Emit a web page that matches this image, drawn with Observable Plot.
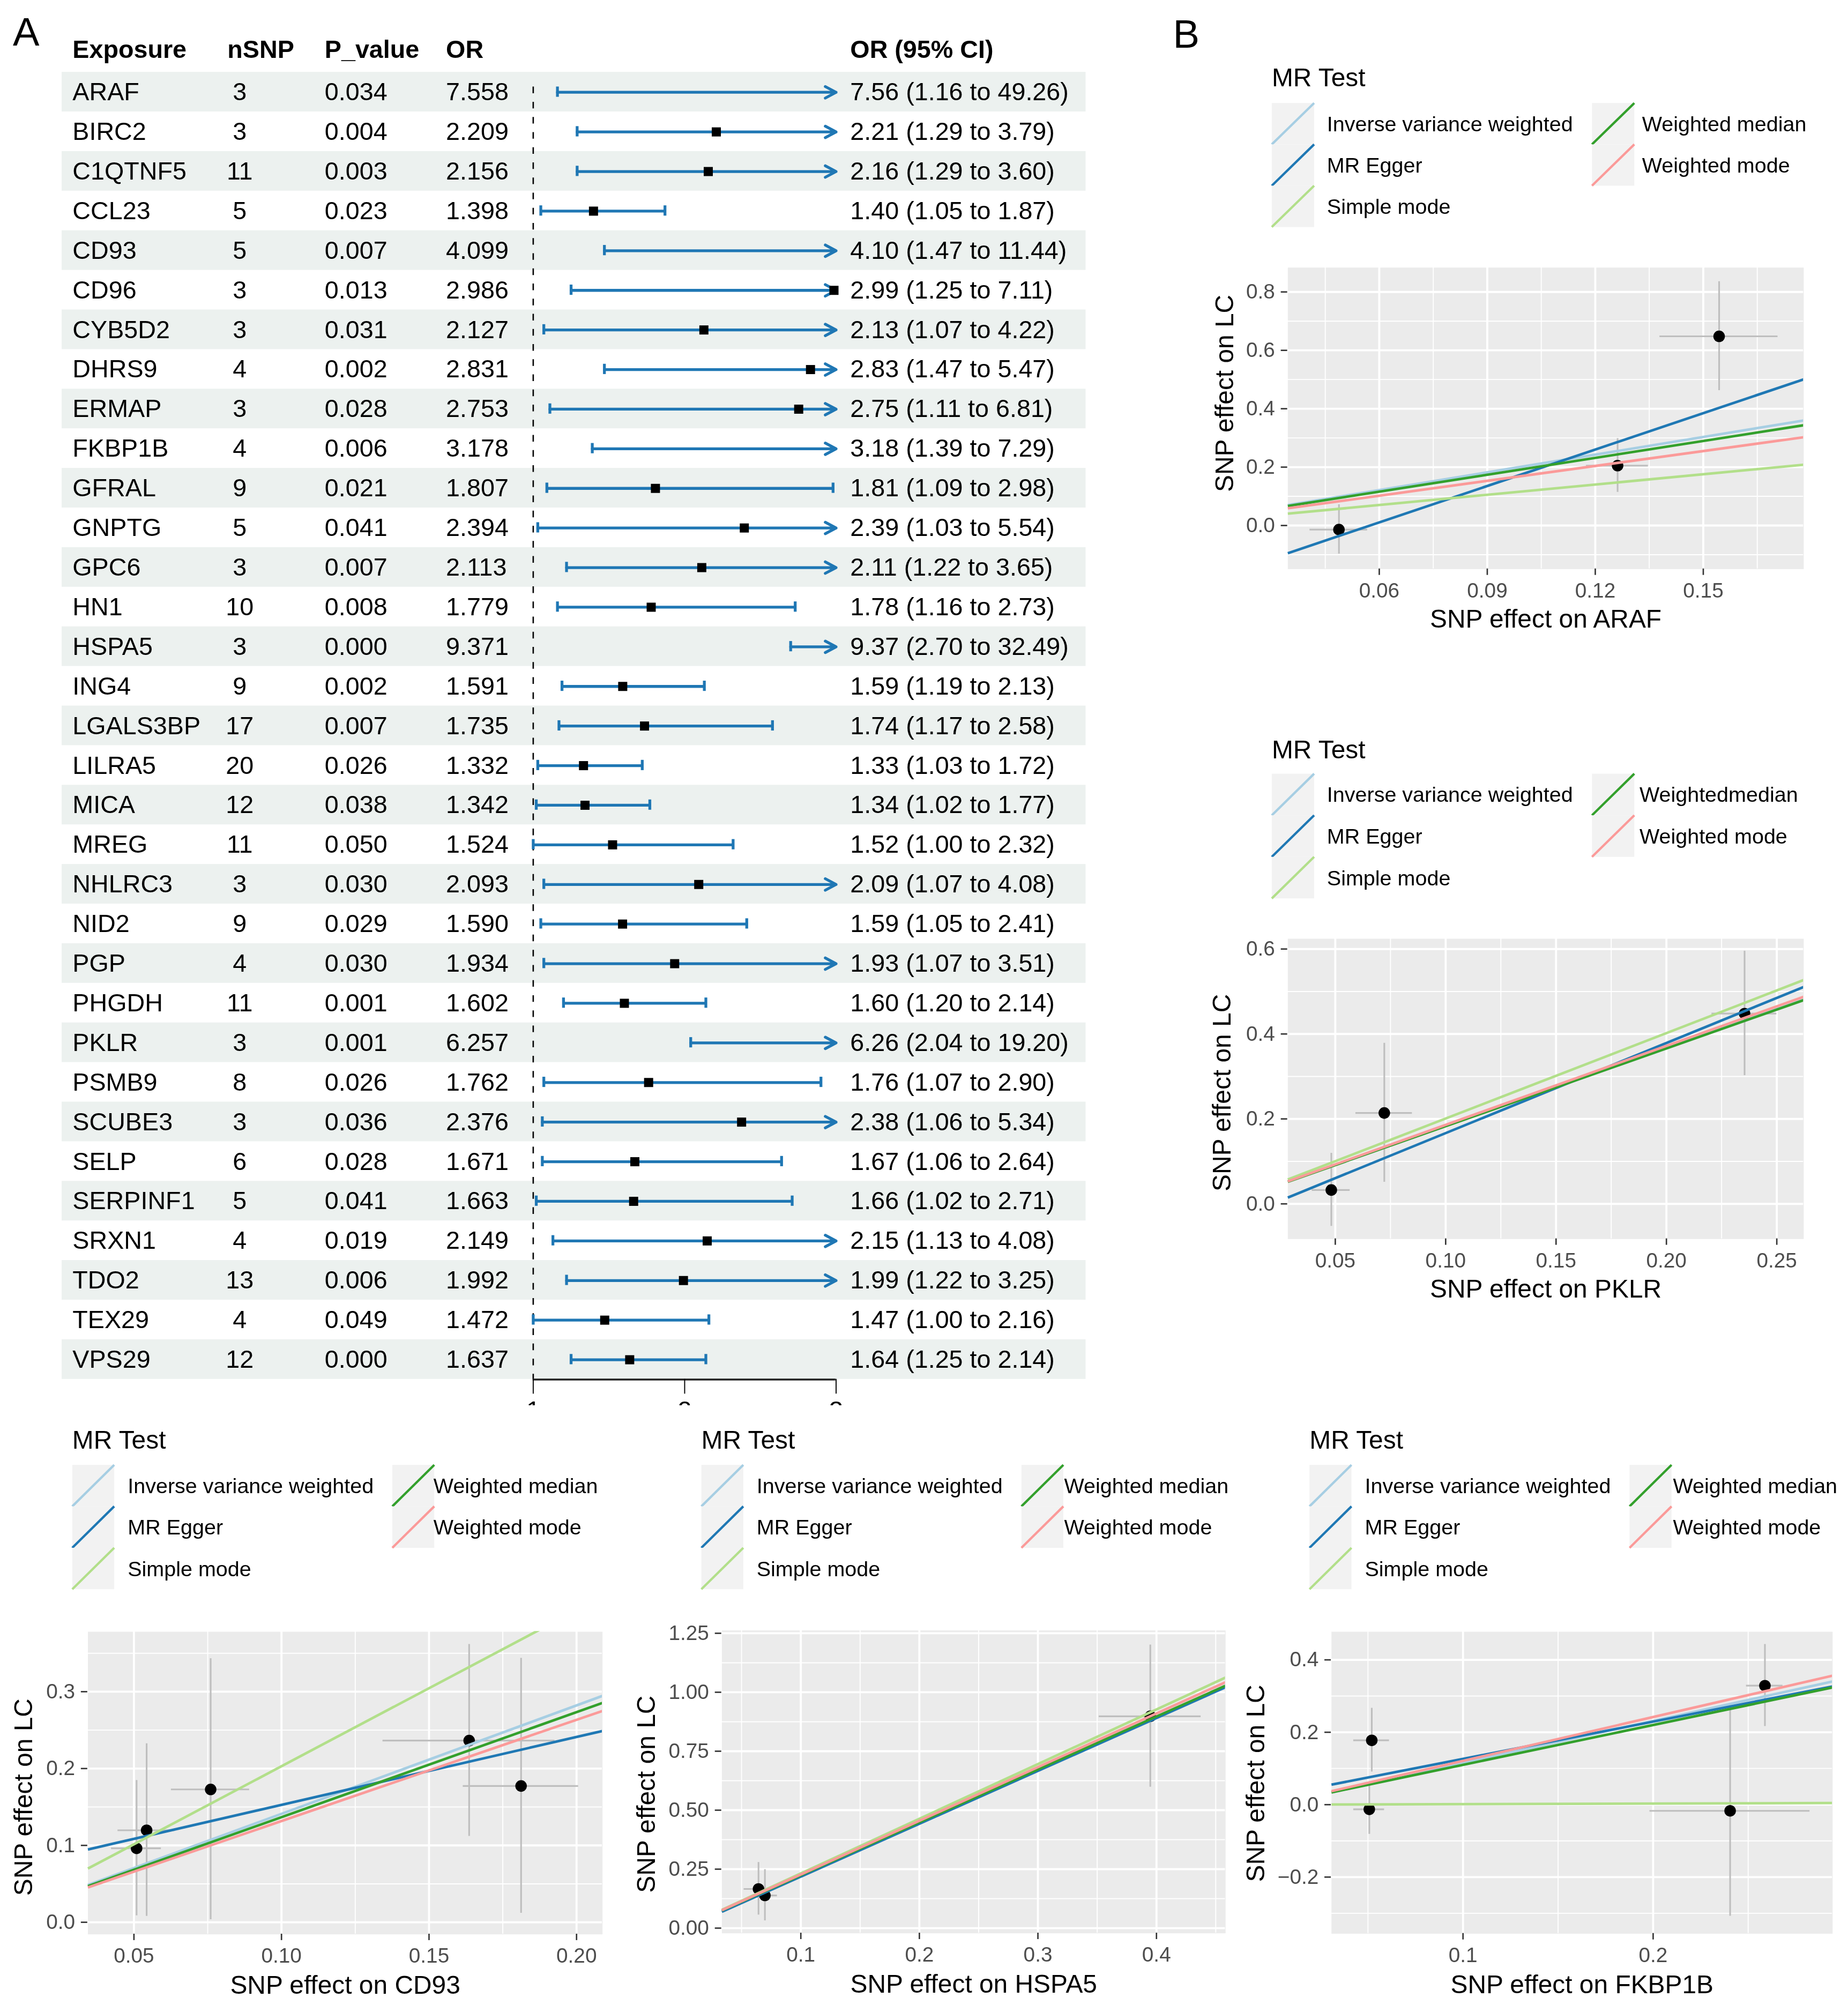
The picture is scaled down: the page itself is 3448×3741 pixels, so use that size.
<!DOCTYPE html>
<html>
<head>
<meta charset="utf-8">
<script src="https://cdn.jsdelivr.net/npm/d3@7"></script>
<script src="https://cdn.jsdelivr.net/npm/@observablehq/plot@0.6"></script>
<style>
html, body { margin: 0; padding: 0; background: #fff; width: 3448px; height: 3741px; overflow: hidden; }
#root { position: absolute; left: 0; top: 0; width: 1440px; height: 1562px; transform: scale(2.394444); transform-origin: 0 0; font-family: "Liberation Sans", Arial, Helvetica, sans-serif; }
</style>
</head>
<body>
<div id="root"></div>
<script>
const FONT = '"Liberation Sans", Arial, Helvetica, sans-serif';

// ---------------- Panel A: forest plot data ----------------
const exposures = ["ARAF","BIRC2","C1QTNF5","CCL23","CD93","CD96","CYB5D2","DHRS9","ERMAP","FKBP1B","GFRAL","GNPTG","GPC6","HN1","HSPA5","ING4","LGALS3BP","LILRA5","MICA","MREG","NHLRC3","NID2","PGP","PHGDH","PKLR","PSMB9","SCUBE3","SELP","SERPINF1","SRXN1","TDO2","TEX29","VPS29"];
const nSNP = [3,3,11,5,5,3,3,4,3,4,9,5,3,10,3,9,17,20,12,11,3,9,4,11,3,8,3,6,5,4,13,4,12];
const pValues = ["0.034","0.004","0.003","0.023","0.007","0.013","0.031","0.002","0.028","0.006","0.021","0.041","0.007","0.008","0.000","0.002","0.007","0.026","0.038","0.050","0.030","0.029","0.030","0.001","0.001","0.026","0.036","0.028","0.041","0.019","0.006","0.049","0.000"];
const oddsRatios = [7.558,2.209,2.156,1.398,4.099,2.986,2.127,2.831,2.753,3.178,1.807,2.394,2.113,1.779,9.371,1.591,1.735,1.332,1.342,1.524,2.093,1.590,1.934,1.602,6.257,1.762,2.376,1.671,1.663,2.149,1.992,1.472,1.637];
const ciLower = [1.16,1.29,1.29,1.05,1.47,1.25,1.07,1.47,1.11,1.39,1.09,1.03,1.22,1.16,2.70,1.19,1.17,1.03,1.02,1.00,1.07,1.05,1.07,1.20,2.04,1.07,1.06,1.06,1.02,1.13,1.22,1.00,1.25];
const ciUpper = [49.26,3.79,3.60,1.87,11.44,7.11,4.22,5.47,6.81,7.29,2.98,5.54,3.65,2.73,32.49,2.13,2.58,1.72,1.77,2.32,4.08,2.41,3.51,2.14,19.20,2.90,5.34,2.64,2.71,4.08,3.25,2.16,2.14];
const orCiLabels = ["7.56 (1.16 to 49.26)","2.21 (1.29 to 3.79)","2.16 (1.29 to 3.60)","1.40 (1.05 to 1.87)","4.10 (1.47 to 11.44)","2.99 (1.25 to 7.11)","2.13 (1.07 to 4.22)","2.83 (1.47 to 5.47)","2.75 (1.11 to 6.81)","3.18 (1.39 to 7.29)","1.81 (1.09 to 2.98)","2.39 (1.03 to 5.54)","2.11 (1.22 to 3.65)","1.78 (1.16 to 2.73)","9.37 (2.70 to 32.49)","1.59 (1.19 to 2.13)","1.74 (1.17 to 2.58)","1.33 (1.03 to 1.72)","1.34 (1.02 to 1.77)","1.52 (1.00 to 2.32)","2.09 (1.07 to 4.08)","1.59 (1.05 to 2.41)","1.93 (1.07 to 3.51)","1.60 (1.20 to 2.14)","6.26 (2.04 to 19.20)","1.76 (1.07 to 2.90)","2.38 (1.06 to 5.34)","1.67 (1.06 to 2.64)","1.66 (1.02 to 2.71)","2.15 (1.13 to 4.08)","1.99 (1.22 to 3.25)","1.47 (1.00 to 2.16)","1.64 (1.25 to 2.14)"];
const forestHeaders = ["Exposure","nSNP","P_value","OR","OR (95% CI)"];
const forestTicks = [1, 2, 3];

// ---------------- Panel B: MR scatter data ----------------
const methods = ["Inverse variance weighted","MR Egger","Simple mode","Weighted median","Weighted mode"];
const methodsPKLR = ["Inverse variance weighted","MR Egger","Simple mode","Weightedmedian","Weighted mode"];
const methodColors = ["#a6cee3","#1f78b4","#b2df8a","#33a02c","#fb9a99"];

// ARAF
const arafBx = [0.0488, 0.1262, 0.1544];
const arafSx = [0.0080, 0.0086, 0.0164];
const arafBy = [-0.014, 0.205, 0.648];
const arafSy = [0.0845, 0.092, 0.1865];
const arafIntercept = [0, -0.2388, 0, 0, 0];
const arafSlope = [2.0226, 4.157, 1.17, 1.93, 1.70];

// PKLR
const pklrBx = [0.0482, 0.0722, 0.2354];
const pklrSx = [0.0086, 0.0128, 0.0147];
const pklrBy = [0.0326, 0.214, 0.448];
const pklrSy = [0.086, 0.1635, 0.1465];
const pklrIntercept = [0, -0.0456, 0, 0, 0];
const pklrSlope = [1.8337, 2.122, 2.01, 1.83, 1.86];

// CD93
const cd93Bx = [0.0509, 0.0543, 0.0760, 0.1636, 0.1812];
const cd93Sx = [0.00845, 0.00965, 0.01325, 0.02915, 0.01955];
const cd93By = [0.0962, 0.1197, 0.1728, 0.2364, 0.1773];
const cd93Sy = [0.088, 0.1122, 0.1698, 0.1248, 0.1659];
const cd93Intercept = [0, 0.0643, 0, 0, 0];
const cd93Slope = [1.4108, 0.884, 2.03, 1.367, 1.317];

// HSPA5
const hspa5Bx = [0.0643, 0.0697, 0.3948];
const hspa5Sx = [0.012, 0.0107, 0.043];
const hspa5By = [0.166, 0.1385, 0.898];
const hspa5Sy = [0.1115, 0.1085, 0.3015];
const hspa5Intercept = [0, -0.0056, 0, 0, 0];
const hspa5Slope = [2.2377, 2.241, 2.318, 2.243, 2.275];

// FKBP1B
const fkbp1bBx = [0.0520, 0.0507, 0.2405, 0.2588];
const fkbp1bSx = [0.0094, 0.0081, 0.0421, 0.0096];
const fkbp1bBy = [0.1777, -0.0128, -0.017, 0.3287];
const fkbp1bSy = [0.088, 0.0697, 0.2918, 0.1133];
const fkbp1bIntercept = [0, 0.0236, 0, 0, 0];
const fkbp1bSlope = [1.1563, 1.029, 0.015, 1.10, 1.21];

// ---------------- helpers ----------------
const root = document.getElementById("root");
function place(el, left, top) {
  const d = document.createElement("div");
  d.style.position = "absolute";
  d.style.left = left + "px";
  d.style.top = top + "px";
  el.style.display = "block";
  d.appendChild(el);
  root.appendChild(d);
  return d;
}

// ---------------- Forest plot ----------------
const rows = exposures.map((e, i) => ({
  i, exposure: e, nsnp: nSNP[i], p: pValues[i], or: oddsRatios[i],
  lo: ciLower[i], hi: ciUpper[i], label: orCiLabels[i]
}));
const shaded = rows.filter(d => d.i % 2 === 0);
const capped = rows.filter(d => d.hi <= 3);
const arrowed = rows.filter(d => d.hi > 3);
const shown = rows.filter(d => d.or <= 3);

const BLUE = "#1F77B4";
const F_LEFT = 48, F_W = 798, F_TOP = 56, F_BOT = 1074.5, F_H = 1094.5;
const bw = (F_BOT - F_TOP) / exposures.length;
const capInset = (bw - 8) / 2;
const colDx = [8, 138.3, 204.5, 299, 614];     // body text columns
const headDx = [8, 128.7, 204.5, 299, 614];    // header text columns
const FS = 19.5;

const headerMarks = forestHeaders.map((h, k) =>
  Plot.text([h], {frameAnchor: "top-left", dx: headDx[k], dy: -17.5, lineAnchor: "middle", textAnchor: "start", fontWeight: "bold", fontSize: FS, fill: "black"})
);
const colText = (accessor, k, anchor = "start") =>
  Plot.text(rows, {y: "exposure", text: accessor, frameAnchor: "left", dx: colDx[k], textAnchor: anchor, lineAnchor: "middle", fontSize: FS, fill: "black"});

const forest = Plot.plot({
  width: F_W, height: F_H,
  marginLeft: 0, marginRight: 0, marginTop: F_TOP, marginBottom: F_H - F_BOT,
  style: {background: "transparent", fontFamily: FONT, overflow: "hidden"},
  x: {domain: [1, 3], range: [415 - F_LEFT, 651 - F_LEFT], clamp: true, axis: null},
  y: {domain: exposures, padding: 0, round: false, axis: null},
  marks: [
    Plot.cell(shaded, {y: "exposure", fill: "#ECF1EF"}),
    ...headerMarks,
    colText("exposure", 0),
    colText(d => String(d.nsnp), 1, "middle"),
    colText("p", 2),
    colText(d => d3.format(".3f")(d.or), 3),
    colText("label", 4),
    Plot.ruleX([1], {stroke: "black", strokeWidth: 1.1, strokeDasharray: "5.2,6.6", strokeDashoffset: 6.8, insetTop: 6.5}),
    Plot.ruleY(capped, {y: "exposure", x1: "lo", x2: "hi", stroke: BLUE, strokeWidth: 2.2}),
    Plot.arrow(arrowed, {x1: "lo", x2: "hi", y1: "exposure", y2: "exposure", stroke: BLUE, strokeWidth: 2.2, headLength: 6.5, headAngle: 56}),
    Plot.tickX(rows, {x: "lo", y: "exposure", stroke: BLUE, strokeWidth: 2.2, insetTop: capInset, insetBottom: capInset}),
    Plot.tickX(capped, {x: "hi", y: "exposure", stroke: BLUE, strokeWidth: 2.2, insetTop: capInset, insetBottom: capInset}),
    Plot.dot(shown, {x: "or", y: "exposure", symbol: "square", r: 4, fill: "black", stroke: "none"}),
    Plot.ruleY([exposures[exposures.length - 1]], {x1: 1, x2: 3, dy: bw / 2, stroke: "#222", strokeWidth: 1.5}),
    Plot.axisX({ticks: forestTicks, tickSize: 11.5, tickPadding: 5, tickFormat: d => String(d), fontSize: FS, label: null, stroke: "black", color: "black", strokeWidth: 0.8})
  ]
});
place(forest, F_LEFT, 0);

// ---------------- Scatter panels ----------------
function scatterPanel(cfg) {
  const mL = 80, mR = 12, mT = 12, mB = 62;
  const [fl, fr, ft, fb] = cfg.frame;
  const pts = cfg.bx.map((x, i) => ({bx: x, sx: cfg.sx[i], by: cfg.by[i], sy: cfg.sy[i]}));
  const [x0, x1] = cfg.xDomain;
  const lineMarks = methods.map((m, k) =>
    Plot.link([k], {
      x1: x0, x2: x1,
      y1: cfg.intercept[k] + cfg.slope[k] * x0,
      y2: cfg.intercept[k] + cfg.slope[k] * x1,
      stroke: methodColors[k], strokeWidth: 2, clip: true
    })
  );
  const svg = Plot.plot({
    width: fr - fl + mL + mR, height: fb - ft + mT + mB,
    marginLeft: mL, marginRight: mR, marginTop: mT, marginBottom: mB,
    style: {background: "transparent", fontFamily: FONT, overflow: "visible"},
    x: {domain: cfg.xDomain, axis: null},
    y: {domain: cfg.yDomain, axis: null},
    marks: [
      Plot.frame({fill: "#EBEBEB", stroke: "none"}),
      Plot.gridX({ticks: cfg.xMinor, stroke: "white", strokeOpacity: 1, strokeWidth: 0.8}),
      Plot.gridY({ticks: cfg.yMinor, stroke: "white", strokeOpacity: 1, strokeWidth: 0.8}),
      Plot.gridX({ticks: cfg.xTicks, stroke: "white", strokeOpacity: 1, strokeWidth: 1.6}),
      Plot.gridY({ticks: cfg.yTicks, stroke: "white", strokeOpacity: 1, strokeWidth: 1.6}),
      Plot.axisX({ticks: cfg.xTicks, tickFormat: d3.format(cfg.xFormat), tickSize: 5, tickPadding: 5.5, fontSize: 16.2, color: "#4D4D4D", stroke: "#333333", strokeWidth: 1.1, label: null}),
      Plot.axisY({ticks: cfg.yTicks, tickFormat: d3.format(cfg.yFormat), tickSize: 5, tickPadding: 5, fontSize: 16.2, color: "#4D4D4D", stroke: "#333333", strokeWidth: 1.1, label: null}),
      Plot.ruleY(pts, {y: "by", x1: d => d.bx - d.sx, x2: d => d.bx + d.sx, stroke: "#BEBEBE", strokeWidth: 1.3}),
      Plot.ruleX(pts, {x: "bx", y1: d => d.by - d.sy, y2: d => d.by + d.sy, stroke: "#BEBEBE", strokeWidth: 1.3}),
      Plot.dot(pts, {x: "bx", y: "by", r: 4.5, fill: "black", stroke: "none"}),
      ...lineMarks,
      Plot.text([cfg.yTitle], {frameAnchor: "left", rotate: -90, dx: cfg.yTitleDx, dy: cfg.yTitleDy, textAnchor: "middle", lineAnchor: "middle", fontSize: 20, fill: "black"}),
      Plot.text([cfg.xTitle], {frameAnchor: "bottom", dy: cfg.xTitleDy, textAnchor: "middle", lineAnchor: "middle", fontSize: 20, fill: "black"})
    ]
  });
  place(svg, fl - mL, ft - mT);
}

scatterPanel({
  frame: [1003, 1405, 208, 443],
  xDomain: [0.0346, 0.1779], yDomain: [-0.1495, 0.8835],
  xTicks: [0.06, 0.09, 0.12, 0.15], xMinor: [0.045, 0.075, 0.105, 0.135, 0.165],
  yTicks: [0, 0.2, 0.4, 0.6, 0.8], yMinor: [-0.1, 0.1, 0.3, 0.5, 0.7],
  xFormat: ".2f", yFormat: ".1f",
  bx: arafBx, sx: arafSx, by: arafBy, sy: arafSy, intercept: arafIntercept, slope: arafSlope,
  xTitle: "SNP effect on ARAF", yTitle: "SNP effect on LC",
  yTitleDx: -49, yTitleDy: -19.5, xTitleDy: 39
});
scatterPanel({
  frame: [1003, 1405, 731, 965],
  xDomain: [0.0285, 0.2622], yDomain: [-0.0828, 0.6242],
  xTicks: [0.05, 0.10, 0.15, 0.20, 0.25], xMinor: [0.075, 0.125, 0.175, 0.225],
  yTicks: [0, 0.2, 0.4, 0.6], yMinor: [0.1, 0.3, 0.5],
  xFormat: ".2f", yFormat: ".1f",
  bx: pklrBx, sx: pklrSx, by: pklrBy, sy: pklrSy, intercept: pklrIntercept, slope: pklrSlope,
  xTitle: "SNP effect on PKLR", yTitle: "SNP effect on LC",
  yTitleDx: -51, yTitleDy: 3, xTitleDy: 39
});
scatterPanel({
  frame: [68, 469, 1270.5, 1506.3],
  xDomain: [0.0344, 0.2088], yDomain: [-0.0157, 0.378],
  xTicks: [0.05, 0.10, 0.15, 0.20], xMinor: [0.075, 0.125, 0.175],
  yTicks: [0, 0.1, 0.2, 0.3], yMinor: [0.05, 0.15, 0.25, 0.35],
  xFormat: ".2f", yFormat: ".1f",
  bx: cd93Bx, sx: cd93Sx, by: cd93By, sy: cd93Sy, intercept: cd93Intercept, slope: cd93Slope,
  xTitle: "SNP effect on CD93", yTitle: "SNP effect on LC",
  yTitleDx: -50, yTitleDy: 11, xTitleDy: 40
});
scatterPanel({
  frame: [562, 954.5, 1270, 1506],
  xDomain: [0.0334, 0.4583], yDomain: [-0.022, 1.262],
  xTicks: [0.1, 0.2, 0.3, 0.4], xMinor: [0.05, 0.15, 0.25, 0.35, 0.45],
  yTicks: [0, 0.25, 0.5, 0.75, 1, 1.25], yMinor: [0.125, 0.375, 0.625, 0.875, 1.125],
  xFormat: ".1f", yFormat: ".2f",
  bx: hspa5Bx, sx: hspa5Sx, by: hspa5By, sy: hspa5Sy, intercept: hspa5Intercept, slope: hspa5Slope,
  xTitle: "SNP effect on HSPA5", yTitle: "SNP effect on LC",
  yTitleDx: -58.6, yTitleDy: 9.6, xTitleDy: 40
});
scatterPanel({
  frame: [1037, 1427.5, 1270.7, 1506],
  xDomain: [0.0308, 0.2944], yDomain: [-0.3564, 0.4777],
  xTicks: [0.1, 0.2], xMinor: [0.05, 0.15, 0.25],
  yTicks: [-0.2, 0, 0.2, 0.4], yMinor: [-0.3, -0.1, 0.1, 0.3],
  xFormat: ".1f", yFormat: ".1f",
  bx: fkbp1bBx, sx: fkbp1bSx, by: fkbp1bBy, sy: fkbp1bSy, intercept: fkbp1bIntercept, slope: fkbp1bSlope,
  xTitle: "SNP effect on FKBP1B", yTitle: "SNP effect on LC",
  yTitleDx: -58.8, yTitleDy: 0.5, xTitleDy: 40
});

// ---------------- Overlay: panel letters and legends ----------------
const overlay = d3.select(root).append("svg")
  .attr("width", 1440).attr("height", 1562)
  .style("position", "absolute").style("left", "0px").style("top", "0px")
  .style("font-family", FONT).style("pointer-events", "none");

overlay.append("text").attr("x", 10).attr("y", 35.5).attr("font-size", 31).attr("fill", "black").text("A");
overlay.append("text").attr("x", 914).attr("y", 37).attr("font-size", 31).attr("fill", "black").text("B");

function drawLegend(cfg, labels) {
  const g = overlay.append("g");
  g.append("text").attr("x", cfg.left).attr("y", cfg.titleY)
    .attr("dominant-baseline", "central").attr("font-size", 20).attr("fill", "black").text("MR Test");
  const cols = [[0, 1, 2], [3, 4]];
  cols.forEach((idx, c) => {
    const kx = c === 0 ? cfg.left : cfg.key2X;
    const lx = c === 0 ? cfg.labelX1 : cfg.labelX2;
    idx.forEach((m, r) => {
      const ky = cfg.keyTop + r * cfg.keyH;
      g.append("rect").attr("x", kx).attr("y", ky).attr("width", cfg.keyW).attr("height", cfg.keyH).attr("fill", "#F2F2F2");
      g.append("line").attr("x1", kx).attr("y1", ky + cfg.keyH).attr("x2", kx + cfg.keyW).attr("y2", ky)
        .attr("stroke", methodColors[m]).attr("stroke-width", 1.8);
      g.append("text").attr("x", lx).attr("y", ky + cfg.keyH / 2)
        .attr("dominant-baseline", "central").attr("font-size", 16.5).attr("fill", "black").text(labels[m]);
    });
  });
}

drawLegend({left: 991, titleY: 60.5, keyTop: 80.3, keyH: 32.2, keyW: 33, labelX1: 1034, key2X: 1240.5, labelX2: 1279.5}, methods);
drawLegend({left: 991, titleY: 584, keyTop: 602.9, keyH: 32.4, keyW: 33, labelX1: 1034, key2X: 1240.5, labelX2: 1277.5}, methodsPKLR);
drawLegend({left: 56.3, titleY: 1121.8, keyTop: 1141.5, keyH: 32.3, keyW: 32.7, labelX1: 99.5, key2X: 305.7, labelX2: 337.8}, methods);
drawLegend({left: 546.5, titleY: 1121.8, keyTop: 1141.5, keyH: 32.3, keyW: 32.7, labelX1: 589.6, key2X: 795.9, labelX2: 829.2}, methods);
drawLegend({left: 1020.4, titleY: 1121.8, keyTop: 1141.5, keyH: 32.3, keyW: 32.7, labelX1: 1063.5, key2X: 1269.8, labelX2: 1303.6}, methods);
</script>
</body>
</html>
